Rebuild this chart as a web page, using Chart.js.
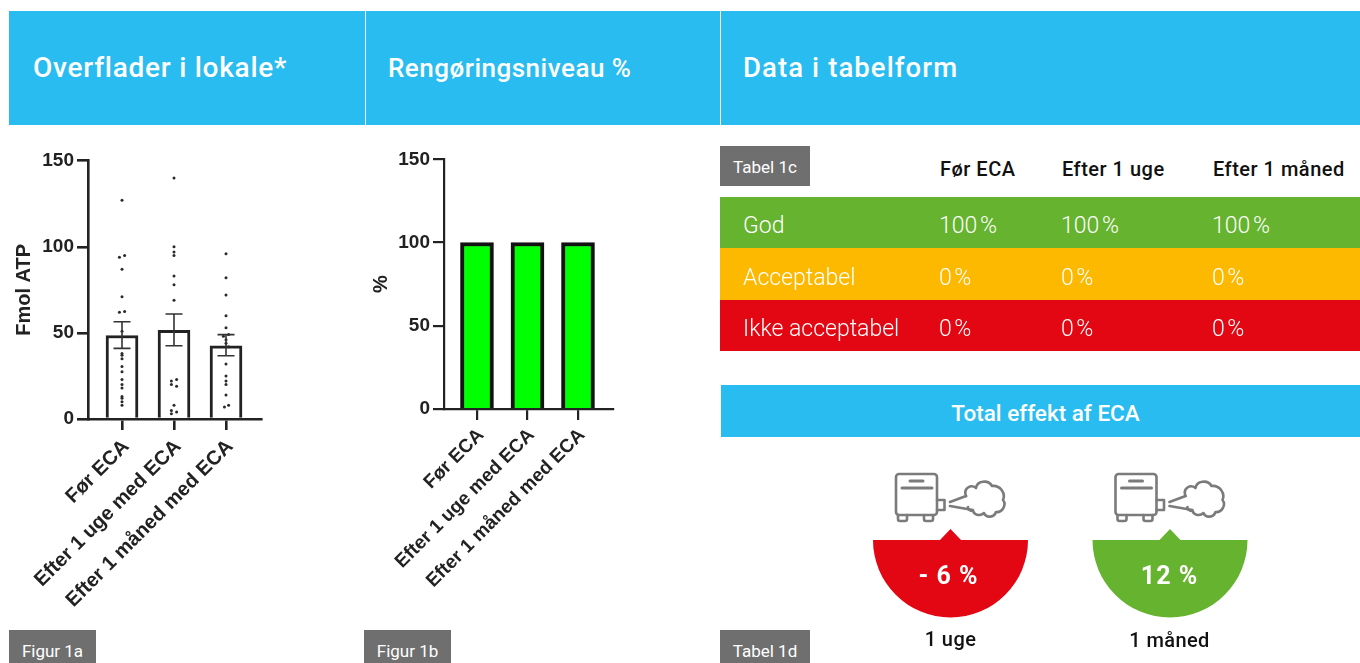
<!DOCTYPE html>
<html lang="da">
<head>
<meta charset="utf-8">
<title>Overflader i lokale</title>
<script src="https://cdn.jsdelivr.net/npm/chart.js@4"></script>
<style>
  html, body { margin: 0; padding: 0; background: #fff; }
  body { position: relative; width: 1360px; height: 663px; overflow: hidden; font-family: Roboto, sans-serif; color: #111; }
  .abs { position: absolute; }
  .head { top: 11px; height: 114px; background: #29bcf0; color: #fff; line-height: 114px; font-weight: 500; white-space: nowrap; }
  .tag { background: #6f6f6f; color: #fff; font-size: 17px; text-align: center; }
  .row { left: 720px; width: 640px; color: #fff; font-size: 23px; font-weight: 300; }
  .row span, .colhead span { position: absolute; white-space: nowrap; }
  .row .val { word-spacing: -3px; }
  .colhead { left: 0; top: 157px; font-size: 20px; font-weight: 500; letter-spacing: .5px; }
  canvas { filter: blur(0.5px); }
  .chartbox { position: absolute; top: 130px; height: 495px; }
</style>
</head>
<body>

<div class="abs head" style="left:9px;width:356px;font-size:28px;letter-spacing:.75px;text-indent:24px">Overflader i lokale*</div>
<div class="abs head" style="left:366px;width:354px;font-size:26px;letter-spacing:.5px;text-indent:22px">Rengøringsniveau %</div>
<div class="abs head" style="left:721px;width:639px;font-size:27.500px;letter-spacing:1.1px;text-indent:22px">Data i tabelform</div>

<div class="chartbox" style="left:9px;width:355px"><canvas id="chartA"></canvas></div>
<div class="chartbox" style="left:366px;width:354px"><canvas id="chartB"></canvas></div>

<div class="abs tag" style="left:9px;top:630px;width:87px;height:33px;line-height:42px">Figur 1a</div>
<div class="abs tag" style="left:364px;top:630px;width:87px;height:33px;line-height:42px">Figur 1b</div>
<div class="abs tag" style="left:720px;top:146px;width:90px;height:40px;line-height:42px">Tabel 1c</div>
<div class="abs tag" style="left:720px;top:630px;width:90px;height:33px;line-height:42px">Tabel 1d</div>

<div id="table"></div>

<div class="abs" style="left:721px;top:385px;width:649px;height:52px;background:linear-gradient(#29bcf0,#29bcf0) 0 0/639px 52px no-repeat;color:#fff;font-size:22.500px;font-weight:500;line-height:56px;text-align:center">Total effekt af ECA</div>

<svg class="abs" style="left:0;top:0" width="1360" height="663" viewBox="0 0 1360 663">
  <defs>
    <g id="machine" fill="none" stroke="#7b7b7b" stroke-width="2.6" stroke-linejoin="round" stroke-linecap="round">
      <rect x="896" y="474" width="41" height="41" rx="3"/>
      <path d="M902 488H932M910 481H923" stroke-width="3"/>
      <path d="M898 515v4a2 2 0 0 0 2 2h5a2 2 0 0 0 2-2v-4M924 515v4a2 2 0 0 0 2 2h5a2 2 0 0 0 2-2v-4"/>
      <path d="M937 500h7.500v10h-7.500"/>
      <path d="M950 502L966 496M950 506L973 510"/>
      <path d="M966 496c-3-8 5-12 10-8c1-7 12-9 16-2c8-1 14 7 11 14c4 5-1 13-7 12c-2 6-10 6-12 1c-3 3-9 3-11-2c-3 0-6-2-5-4"/>
    </g>
    <path id="half" d="M873 540H940L950.500 529L961 540H1028A77.500 77.500 0 0 1 873 540Z"/>
  </defs>
  <use href="#machine"/>
  <use href="#machine" x="219.500" y="0"/>
  <use href="#half" fill="#e30613"/>
  <use href="#half" x="219.500" fill="#65b32e"/>
</svg>

<div class="abs" style="left:871px;top:561px;width:155px;text-align:center;color:#fff;font-size:25px;font-weight:700;letter-spacing:1px">- 6 %</div>
<div class="abs" style="left:1092px;top:561px;width:155px;text-align:center;color:#fff;font-size:25px;font-weight:700;letter-spacing:1px">12 %</div>
<div class="abs" style="left:873px;top:627px;width:155px;text-align:center;font-size:20px;font-weight:500;letter-spacing:.4px">1 uge</div>
<div class="abs" style="left:1092px;top:628px;width:155px;text-align:center;font-size:20px;font-weight:500;letter-spacing:.4px">1 måned</div>

<script>
const categories = ["Før ECA", "Efter 1 uge med ECA", "Efter 1 måned med ECA"];

// figur 1a
const atpMeans = [48.5, 51.5, 42.5];
const atpErrLow = [41, 42.5, 36.7];
const atpErrHigh = [56.5, 61, 49];
const atpGroup1 = [127, 95, 94, 87, 71, 62.5, 62, 51, 38, 37, 35, 30.5, 27.5, 23, 20, 18, 13, 12, 10, 8];
const atpJitter1 = [0, .05, -.05, 0, 0, .05, -.05, 0, 0, 0, 0, 0, 0, 0, 0, 0, 0, 0, 0, 0];
const atpGroup2 = [140, 100, 97, 95, 83, 78, 69, 51, 23, 22, 20, 19, 8, 5, 4, 3];
const atpJitter2 = [0, 0, 0, 0, 0, 0, 0, 0, .05, -.05, -.05, .05, 0, -.05, .05, -.05];
const atpGroup3 = [96, 82, 72, 60, 53, 49, 48, 46, 44, 42, 32, 25, 22, 20, 14, 8, 7];
const atpJitter3 = [0, 0, 0, 0, 0, .05, -.05, 0, 0, .05, 0, 0, 0, 0, 0, .05, -.03];

// figur 1b
const levelValues = [100, 100, 100];

const yTicks = [0, 50, 100, 150];

// tabel 1c
const tableColumns = ["Før ECA", "Efter 1 uge", "Efter 1 måned"];
const tableRows = ["God", "Acceptabel", "Ikke acceptabel"];
const tableValues = [["100 %", "100 %", "100 %"], ["0 %", "0 %", "0 %"], ["0 %", "0 %", "0 %"]];
const rowColors = ["#65b32e", "#fdb900", "#e30613"];

const colX = [939, 1061, 1212];
const rowTop = [197, 248, 300];
const rowH = [51, 52, 51];

function buildTable() {
  const holder = document.getElementById("table");
  let html = '<div class="abs colhead">';
  tableColumns.forEach((c, i) => { html += `<span style="left:${colX[i] + 1}px">${c}</span>`; });
  html += "</div>";
  tableRows.forEach((r, i) => {
    html += `<div class="abs row" style="top:${rowTop[i]}px;height:${rowH[i]}px;line-height:${rowH[i] + 7}px;background:${rowColors[i]}">`;
    html += `<span style="left:23px">${r}</span>`;
    tableValues[i].forEach((v, j) => { html += `<span class="val" style="left:${colX[j] - 720}px">${v}</span>`; });
    html += "</div>";
  });
  holder.innerHTML = html;
}
buildTable();

const errorBars = {
  id: "errorBars",
  afterDatasetsDraw(chart, args, opts) {
    if (!opts.low) return;
    const { ctx, scales: { x, y } } = chart;
    ctx.save();
    ctx.strokeStyle = "#333";
    ctx.lineWidth = 1.6;
    opts.low.forEach((low, i) => {
      const px = x.getPixelForValue(i);
      const yLow = y.getPixelForValue(low);
      const yHigh = y.getPixelForValue(opts.high[i]);
      ctx.beginPath();
      ctx.moveTo(px, yLow); ctx.lineTo(px, yHigh);
      ctx.moveTo(px - 8.5, yLow); ctx.lineTo(px + 8.5, yLow);
      ctx.moveTo(px - 8.5, yHigh); ctx.lineTo(px + 8.5, yHigh);
      ctx.stroke();
    });
    ctx.restore();
  }
};

function axisOptions(xMin, xMax, leftWidth, bottomHeight, yTitle, titlePad, labelSize, labelPad, lineW) {
  const ink = "#222";
  return {
    x: {
      type: "linear", min: xMin, max: xMax, offset: false,
      afterBuildTicks: s => { s.ticks = categories.map((c, i) => ({ value: i })); },
      afterFit: s => { s.height = bottomHeight; },
      border: { color: ink, width: lineW },
      grid: { offset: false, drawOnChartArea: false, color: ink, lineWidth: lineW, tickLength: 11 },
      ticks: {
        callback: v => categories[v], autoSkip: false, minRotation: 45, maxRotation: 45,
        color: "#222", padding: labelPad, labelOffset: 4, font: { family: "'Liberation Sans'", size: labelSize, weight: "bold" }
      }
    },
    y: {
      min: 0, max: 150,
      afterBuildTicks: s => { s.ticks = yTicks.map(v => ({ value: v })); },
      afterFit: s => { s.width = leftWidth; },
      border: { color: ink, width: lineW },
      grid: { drawOnChartArea: false, color: ink, lineWidth: lineW, tickLength: 11 },
      title: { display: true, text: yTitle, color: "#222", font: { family: "'Liberation Sans'", size: 20, weight: "bold" }, padding: { top: titlePad, bottom: 0 } },
      ticks: { color: "#222", padding: 3, font: { family: "'Liberation Sans'", size: 19, weight: "bold" } }
    }
  };
}

function dotSet(values, jitter, group) {
  return {
    type: "scatter", order: 0, data: values.map((v, i) => ({ x: group + jitter[i], y: v })),
    backgroundColor: "#2a2a2a", borderWidth: 0, pointRadius: 1.5, pointHoverRadius: 1.5
  };
}

const baseOptions = { responsive: true, maintainAspectRatio: false, animation: false };

new Chart(document.getElementById("chartA"), {
  type: "bar",
  data: {
    datasets: [
      dotSet(atpGroup1, atpJitter1, 0),
      dotSet(atpGroup2, atpJitter2, 1),
      dotSet(atpGroup3, atpJitter3, 2),
      {
        type: "bar", order: 1, data: atpMeans.map((v, i) => ({ x: i, y: v })),
        backgroundColor: "#fff", borderColor: "#222", borderWidth: 3, borderSkipped: "bottom", barThickness: 32
      }
    ]
  },
  options: {
    ...baseOptions,
    layout: { padding: { top: 30.7, right: 103, left: 0, bottom: 0 } },
    scales: axisOptions(-0.654, 2.673, 79, 206, "Fmol ATP", 3, 20, 5, 2.6),
    plugins: { legend: { display: false }, tooltip: { enabled: false }, errorBars: { low: atpErrLow, high: atpErrHigh } }
  },
  plugins: [errorBars]
});

new Chart(document.getElementById("chartB"), {
  type: "bar",
  data: {
    datasets: [{
      data: levelValues.map((v, i) => ({ x: i, y: v })),
      backgroundColor: "#00ff00", borderColor: "#111", borderWidth: 4, borderSkipped: "bottom", barThickness: 33
    }]
  },
  options: {
    ...baseOptions,
    layout: { padding: { top: 29.3, right: 107, left: 0, bottom: 0 } },
    scales: axisOptions(-0.653, 2.693, 78, 216, "%", 3, 19, 4, 2.2),
    plugins: { legend: { display: false }, tooltip: { enabled: false } }
  }
});
</script>
</body>
</html>
